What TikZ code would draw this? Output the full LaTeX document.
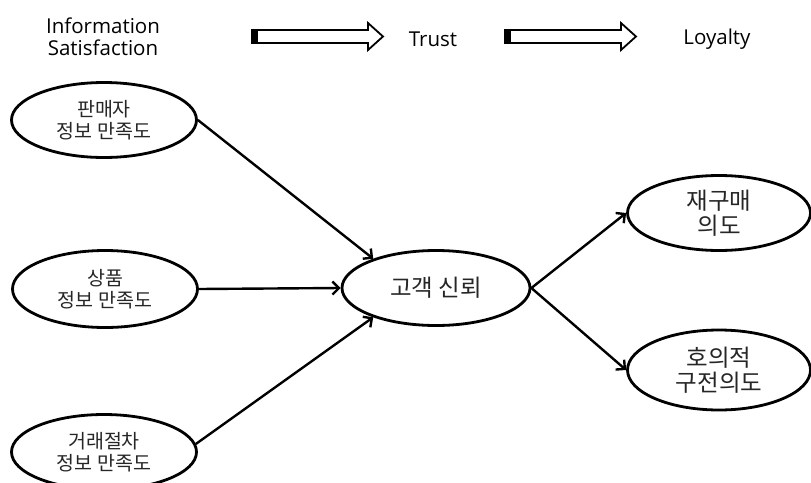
\documentclass[tikz,border=0pt]{standalone}
\usepackage{fontspec}
\setmainfont{Open Sans}
\newfontfamily\kr{Noto Sans CJK KR}
\usetikzlibrary{shapes.geometric,arrows.meta}

\begin{document}
\begin{tikzpicture}[x=1pt,y=-1pt,
	oval/.style={draw,ellipse,line width=2.8pt,inner sep=0pt,
		minimum width=185pt,minimum height=75pt,align=center,
		text=black!85,font=\kr\fontsize{19.5}{21.5}\selectfont},
	bigoval/.style={oval,font=\kr\fontsize{23.5}{25.5}\selectfont},
	head/.style={font=\fontsize{20.5}{22}\selectfont,align=center},
	link/.style={line width=2.4pt,-{Straight Barb[length=6.5pt,width=13pt]}}]
	\clip (0,0) rectangle (811,482);
	\fill[white] (0,0) rectangle (811,482);
	%header
	\node[head] (info) at (103,37) {Information\\Satisfaction};
	\node[head] (trusthead) at (433,39) {Trust};
	\node[head] (loyalhead) at (717,39) {Loyalty};
	\foreach \dx in {0,253}
	{
		\draw[line width=1.8pt,fill=white] (252+\dx,30) -- (368+\dx,30) -- (368+\dx,23)
		-- (383+\dx,36.5) -- (368+\dx,50) -- (368+\dx,43) -- (252+\dx,43) -- cycle;
		\fill (252+\dx,30) rectangle (258+\dx,43);
	}
	%information satisfaction
	\node[oval] (seller) at (104,120) {판매자\\정보 만족도};
	\node[oval,minimum height=77pt] (goods) at (105,289) {상품\\정보 만족도};
	\node[oval] (deal) at (104,452) {거래절차\\정보 만족도};
	%trust
	\node[bigoval,minimum width=188pt] (trust) at (436,288) {고객 신뢰};
	%loyalty
	\node[bigoval,minimum width=183pt] (rebuy) at (719,213) {재구매\\의도};
	\node[bigoval,minimum width=183pt,minimum height=80pt] (wom) at (719,370) {호의적\\구전의도};
	%links
	\draw[link] (seller.east) -- (trust.155);
	\draw[link] (goods.east) -- (trust.west);
	\draw[link] (deal.5) -- (trust.205);
	\draw[link] (trust.east) -- (rebuy.west);
	\draw[link] (trust.east) -- (wom.west);
\end{tikzpicture}
\end{document}
